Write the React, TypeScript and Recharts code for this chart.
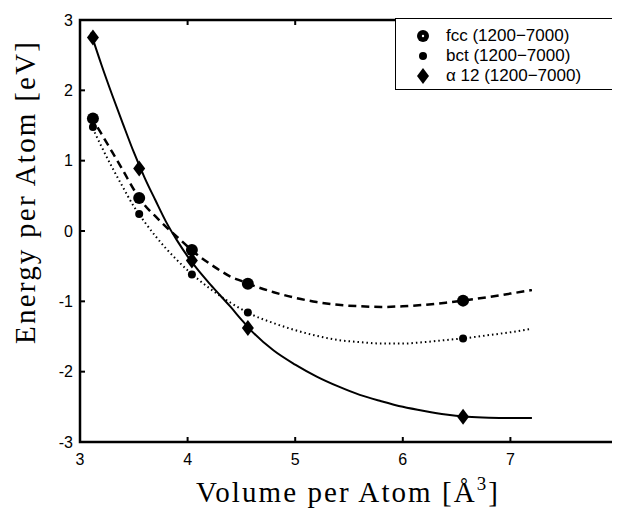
import React from 'react';
import { ComposedChart, Line, Scatter, XAxis, YAxis, ReferenceArea } from 'recharts';

// Computed points (volume per atom, energy per atom)
const volumes = [3.12, 3.55, 4.04, 4.56, 6.56];
const fccEnergy = [1.6, 0.47, -0.27, -0.75, -0.99];
const bctEnergy = [1.48, 0.24, -0.62, -1.16, -1.53];
const alpha12Energy = [2.75, 0.89, -0.42, -1.38, -2.64];

// Fitted curves
const fitVolumes = [3.1, 3.2, 3.3, 3.4, 3.5, 3.6, 3.7, 3.8, 3.9, 4.0, 4.1, 4.2, 4.3, 4.4, 4.5, 4.6, 4.8, 5.0, 5.2, 5.4, 5.6, 5.8, 6.0, 6.2, 6.4, 6.6, 6.8, 7.0, 7.2];
const fccFit = [1.63, 1.38, 1.12, 0.86, 0.59, 0.37, 0.21, 0.06, -0.08, -0.22, -0.35, -0.46, -0.56, -0.65, -0.71, -0.77, -0.87, -0.95, -1.01, -1.05, -1.07, -1.08, -1.07, -1.05, -1.02, -0.98, -0.94, -0.89, -0.84];
const bctFit = [1.52, 1.2, 0.9, 0.62, 0.35, 0.13, -0.07, -0.25, -0.41, -0.56, -0.69, -0.81, -0.92, -1.02, -1.11, -1.19, -1.31, -1.41, -1.49, -1.55, -1.58, -1.6, -1.6, -1.58, -1.55, -1.52, -1.48, -1.44, -1.39];
const alpha12Fit = [2.82, 2.36, 1.93, 1.52, 1.12, 0.76, 0.44, 0.13, -0.13, -0.36, -0.56, -0.74, -0.91, -1.08, -1.26, -1.43, -1.7, -1.9, -2.07, -2.21, -2.33, -2.42, -2.5, -2.56, -2.61, -2.64, -2.655, -2.66, -2.66];

const xTicks = [3, 4, 5, 6, 7, 8];
const yTicks = [-3, -2, -1, 0, 1, 2, 3];
const legendLabels = ['fcc (1200\u22127000)', 'bct (1200\u22127000)', '\u03b1 12 (1200\u22127000)'];

const fitData = fitVolumes.map((v, i) => ({ v, fcc: fccFit[i], bct: bctFit[i], a12: alpha12Fit[i] }));
const fccPts = volumes.map((v, i) => ({ v, e: fccEnergy[i] }));
const bctPts = volumes.map((v, i) => ({ v, e: bctEnergy[i] }));
const a12Pts = volumes.map((v, i) => ({ v, e: alpha12Energy[i] }));

const BigDot = (p: any) => <circle cx={p.cx} cy={p.cy} r={6} fill="#000" />;
const SmallDot = (p: any) => <circle cx={p.cx} cy={p.cy} r={4} fill="#000" />;
const Diamond = (p: any) => (
  <path d={`M${p.cx},${p.cy - 8} L${p.cx + 6},${p.cy} L${p.cx},${p.cy + 8} L${p.cx - 6},${p.cy} Z`} fill="#000" />
);

const tickFont = 'Liberation Sans, Arial, sans-serif';
const titleFont = 'Liberation Serif, Times New Roman, serif';

const BottomTick = (p: any) => (
  <g>
    <line x1={p.x} x2={p.x} y1={p.y} y2={p.y - 5} stroke="#000" strokeWidth={2} />
    <text x={p.x} y={p.y + 12} textAnchor="middle" dominantBaseline="hanging" fontFamily={tickFont} fontSize={16} fill="#000">
      {p.payload.value}
    </text>
  </g>
);
const TopTick = (p: any) => <line x1={p.x} x2={p.x} y1={p.y} y2={p.y + 5} stroke="#000" strokeWidth={2} />;
const LeftTick = (p: any) => (
  <g>
    <line x1={p.x} x2={p.x + 5} y1={p.y} y2={p.y} stroke="#000" strokeWidth={2} />
    <text x={p.x - 7} y={p.y} textAnchor="end" dominantBaseline="central" fontFamily={tickFont} fontSize={16} fill="#000">
      {p.payload.value}
    </text>
  </g>
);
const RightTick = (p: any) => <line x1={p.x} x2={p.x - 5} y1={p.y} y2={p.y} stroke="#000" strokeWidth={2} />;

export default function App() {
  const markers = [
    <svg width={16} height={18} key="a"><circle cx={8} cy={9} r={6} fill="#000" /><circle cx={8} cy={9} r={1.2} fill="#fff" /></svg>,
    <svg width={16} height={18} key="b"><circle cx={8} cy={9} r={4} fill="#000" /></svg>,
    <svg width={16} height={18} key="c"><path d="M8,1 L14,9 L8,17 L2,9 Z" fill="#000" /></svg>,
  ];
  return (
    <div style={{ position: 'relative', width: 612, height: 504 }}>
      <ComposedChart width={612} height={504} data={fitData} margin={{ top: 11, right: 1, bottom: 0, left: 0 }} style={{ overflow: 'visible' }}>
        <XAxis
          xAxisId="b"
          dataKey="v"
          type="number"
          domain={[3, 8]}
          ticks={xTicks}
          interval={0}
          allowDataOverflow
          height={70}
          axisLine={false}
          tickSize={0}
          tickMargin={0}
          tickLine={false}
          tick={BottomTick}
          label={{
            content: (props: any) => {
              const vb = props.viewBox;
              return (
                <text x={vb.x + vb.width / 2 - 2} y={vb.y + 60} textAnchor="middle" fontFamily={titleFont} fontSize={29} fill="#000" textLength={302} lengthAdjust="spacing">
                  Volume per Atom [Å<tspan dy={-12} fontSize={19}>3</tspan><tspan dy={12}>]</tspan>
                </text>
              );
            },
          }}
        />
        <XAxis xAxisId="t" orientation="top" dataKey="v" type="number" domain={[3, 8]} ticks={xTicks} interval={0} allowDataOverflow height={1} axisLine={false} tickSize={0} tickMargin={0} tickLine={false} tick={TopTick} />
        <YAxis
          yAxisId="l"
          type="number"
          domain={[-3, 3]}
          ticks={yTicks}
          interval={0}
          allowDataOverflow
          width={72}
          axisLine={false}
          tickSize={0}
          tickMargin={0}
          tickLine={false}
          tick={LeftTick}
          label={{
            content: (props: any) => {
              const vb = props.viewBox;
              const cx = 17;
              const cy = vb.y + vb.height / 2 - 38;
              return (
                <text x={cx} y={cy} transform={`rotate(-90 ${cx} ${cy})`} textAnchor="middle" dominantBaseline="central" fontFamily={titleFont} fontSize={29} fill="#000" textLength={302} lengthAdjust="spacing">
                  Energy per Atom [eV]
                </text>
              );
            },
          }}
        />
        <YAxis yAxisId="r" orientation="right" type="number" domain={[-3, 3]} ticks={yTicks} interval={0} allowDataOverflow width={1} axisLine={false} tickSize={0} tickMargin={0} tickLine={false} tick={RightTick} />
        <ReferenceArea xAxisId="b" yAxisId="l" x1={3} x2={8} y1={-3} y2={3} fill="none" stroke="#000" strokeWidth={2.5} ifOverflow="visible" />
        <Line xAxisId="b" yAxisId="l" dataKey="a12" type="monotone" stroke="#000" strokeWidth={2} dot={false} isAnimationActive={false} />
        <Line xAxisId="b" yAxisId="l" dataKey="fcc" type="monotone" stroke="#000" strokeWidth={2.5} strokeDasharray="8 5" dot={false} isAnimationActive={false} />
        <Line xAxisId="b" yAxisId="l" dataKey="bct" type="monotone" stroke="#000" strokeWidth={2} strokeDasharray="1.5 3" dot={false} isAnimationActive={false} />
        <Scatter xAxisId="b" yAxisId="l" data={fccPts} dataKey="e" shape={BigDot} isAnimationActive={false} />
        <Scatter xAxisId="b" yAxisId="l" data={bctPts} dataKey="e" shape={SmallDot} isAnimationActive={false} />
        <Scatter xAxisId="b" yAxisId="l" data={a12Pts} dataKey="e" shape={Diamond} isAnimationActive={false} />
      </ComposedChart>
      <div
        style={{
          position: 'absolute',
          left: 387,
          top: 10,
          width: 218,
          height: 72,
          border: '1.5px solid #000',
          background: '#fff',
          boxSizing: 'border-box',
          padding: '7px 0 0 0',
          fontFamily: tickFont,
          fontSize: 17,
          color: '#000',
        }}
      >
        {legendLabels.map((t, i) => (
          <div key={t} style={{ display: 'flex', alignItems: 'center', height: 20, whiteSpace: 'nowrap' }}>
            <div style={{ width: 50, display: 'flex', paddingLeft: 19, boxSizing: 'border-box' }}>{markers[i]}</div>
            <span>{t}</span>
          </div>
        ))}
      </div>
    </div>
  );
}
